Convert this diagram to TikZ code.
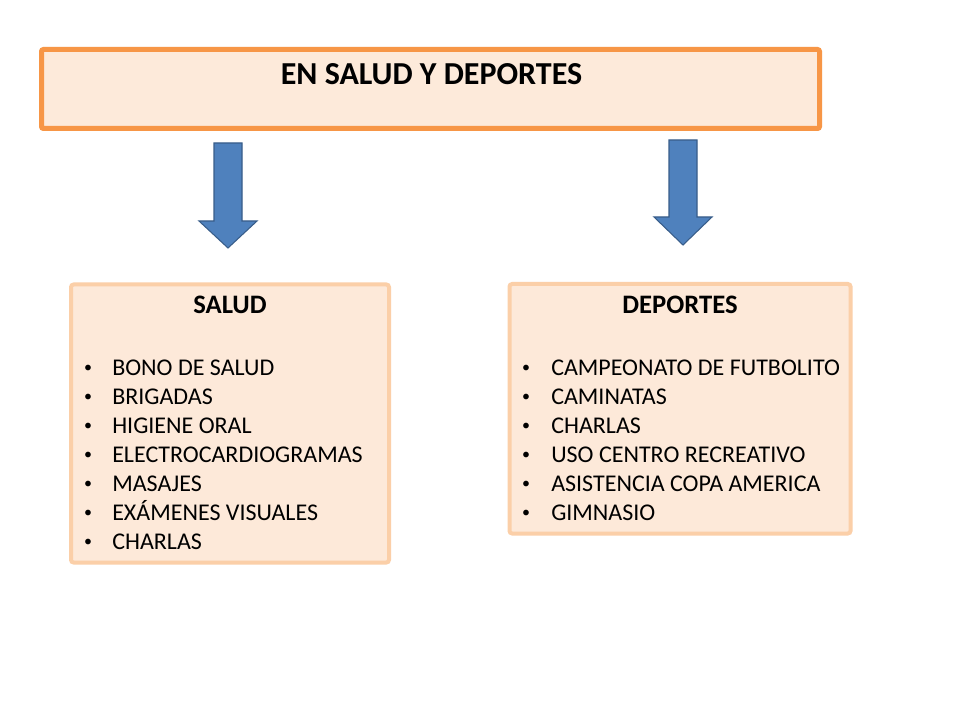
\documentclass[tikz,border=0pt]{standalone}
\usepackage{fontspec}
\setmainfont{Carlito}
\definecolor{topfill}{HTML}{FDEADA}
\definecolor{topline}{HTML}{F79646}
\definecolor{boxfill}{HTML}{FDE9D9}
\definecolor{boxline}{HTML}{FBCFA8}
\definecolor{arrfill}{HTML}{4F81BD}
\definecolor{arrline}{HTML}{385D8A}
\begin{document}
\begin{tikzpicture}[x=0.75pt,y=-0.75pt,
  topbox/.style={draw=topline,fill=topfill,line width=3.75pt,rounded corners=1.5pt},
  listbox/.style={draw=boxline,fill=boxfill,line width=3pt,rounded corners=2pt},
  blockarrow/.style={fill=arrfill,draw=arrline,line width=0.8pt,line join=miter},
  title/.style={font=\fontsize{24}{28}\selectfont\bfseries,anchor=base,inner sep=0pt},
  head/.style={font=\fontsize{20}{24}\selectfont\bfseries,anchor=base,inner sep=0pt},
  item/.style={font=\fontsize{18}{22}\selectfont,anchor=base west,inner sep=0pt},
  bul/.style={font=\fontsize{12}{14}\selectfont,anchor=base,inner sep=0pt}]
\useasboundingbox[fill=white] (0,0) rectangle (960,720);
% top box
\draw[topbox] (41.5,49.5) rectangle (819.5,128.5);
\node[title] (t) at (431.5,85) {EN SALUD Y DEPORTES};
% arrows
\draw[blockarrow] (214,143) -- (242,143) -- (242,221) -- (257,221) -- (228,248) -- (199,221) -- (214,221) -- cycle;
\draw[blockarrow] (669,140) -- (697,140) -- (697,217) -- (712,217) -- (683,245) -- (654,217) -- (669,217) -- cycle;
% salud box
\draw[listbox] (71,284.5) rectangle (389,562.5);
\node[head] (hs) at (230,314) {SALUD};
\foreach \t [count=\i] in {BONO DE SALUD,BRIGADAS,HIGIENE ORAL,ELECTROCARDIOGRAMAS,MASAJES,EXÁMENES VISUALES,CHARLAS}{
  \node[bul] (bs\i) at (88,372+29*\i-29) {•};
  \node[item] (s\i) at (112,375+29*\i-29) {\t};
}
% deportes box
\draw[listbox] (509.5,284) rectangle (850.5,533.5);
\node[head] (hd) at (680,314) {DEPORTES};
\foreach \t [count=\i] in {CAMPEONATO DE FUTBOLITO,CAMINATAS,CHARLAS,USO CENTRO RECREATIVO,ASISTENCIA COPA AMERICA,GIMNASIO}{
  \node[bul] (bd\i) at (526,372+29*\i-29) {•};
  \node[item] (d\i) at (551,375+29*\i-29) {\t};
}
\end{tikzpicture}
\end{document}
